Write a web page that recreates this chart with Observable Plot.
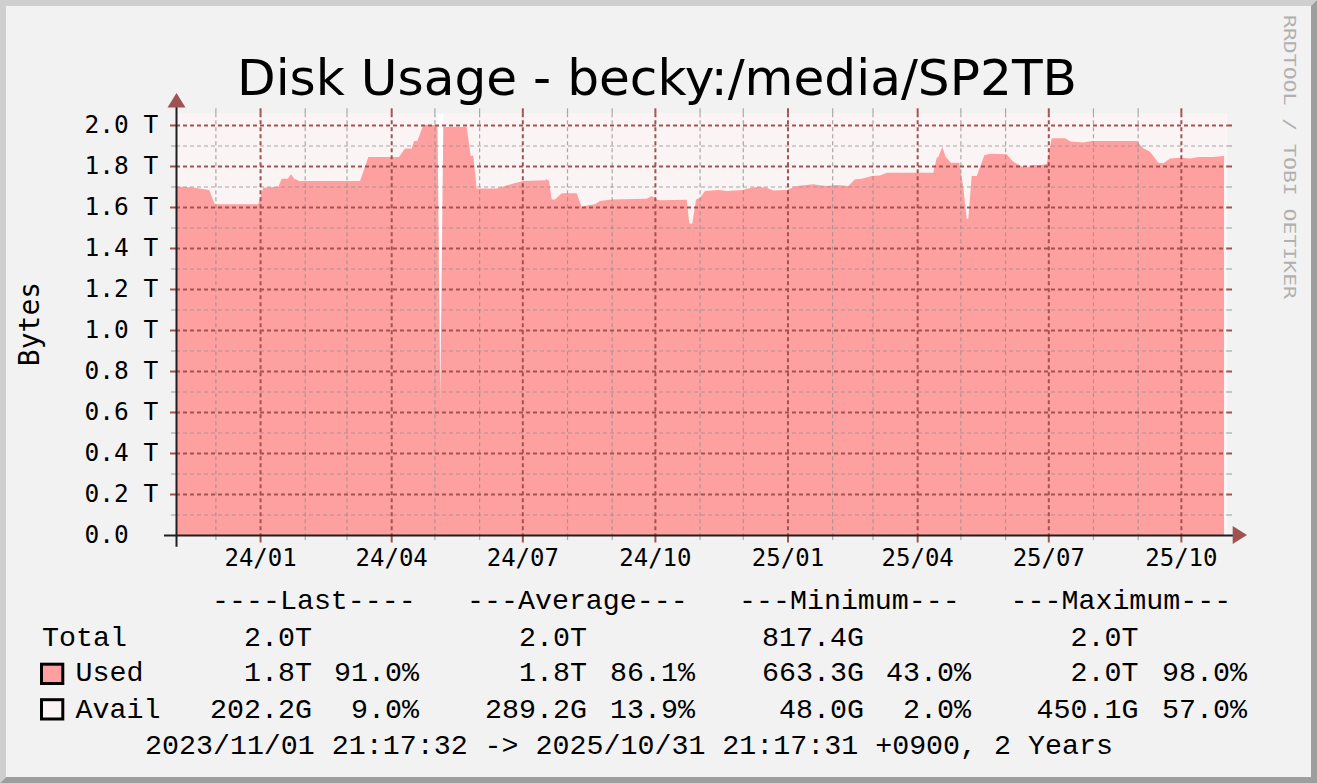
<!DOCTYPE html>
<html><head><meta charset="utf-8">
<script src="https://cdn.jsdelivr.net/npm/d3@7"></script>
<script src="https://cdn.jsdelivr.net/npm/@observablehq/plot@0.6"></script>
<style>html,body{margin:0;padding:0;background:#F2F2F2;overflow:hidden}</style>
</head><body><div id="chart"></div>
<script>
// ---------- text ----------
const titleText = "Disk Usage - becky:/media/SP2TB";
const yAxisLabel = "Bytes";
const watermarkText = "RRDTOOL / TOBI OETIKER";
const periodText = "2023/11/01 21:17:32 -> 2025/10/31 21:17:31 +0900, 2 Years";

// ---------- time domain (local +0900) ----------
const xDomainDates = ["2023-11-03T16:00", "2025-11-01T16:00"];

// ---------- Used series (T bytes) ----------
const usedDates = [
  "2023-11-04T04:00","2023-11-15T11:00","2023-11-26T18:00","2023-11-29T13:00","2023-11-30T17:00",
  "2023-12-30T19:00","2024-01-03T06:00","2024-01-13T16:00","2024-01-16T01:00","2024-01-20T04:00",
  "2024-01-22T11:00","2024-01-24T18:00","2024-01-28T05:00","2024-03-10T09:00","2024-03-16T03:00",
  "2024-04-06T10:00","2024-04-10T14:00","2024-04-15T05:00","2024-04-16T20:00","2024-04-19T03:00",
  "2024-04-23T07:00","2024-05-03T03:00","2024-05-05T02:00","2024-05-07T04:00","2024-05-23T10:00",
  "2024-05-26T04:00","2024-05-27T23:00","2024-05-30T08:00","2024-06-13T05:00","2024-06-24T18:00",
  "2024-07-01T16:00","2024-07-16T18:00","2024-07-17T22:00","2024-07-19T12:00","2024-07-21T09:00",
  "2024-07-23T16:00","2024-07-28T08:00","2024-08-07T18:00","2024-08-11T05:00","2024-08-15T19:00",
  "2024-08-20T10:00","2024-08-23T22:00","2024-09-01T01:00","2024-09-25T07:00","2024-09-28T19:00",
  "2024-10-02T06:00","2024-10-04T13:00","2024-10-23T02:00","2024-10-24T21:00","2024-10-26T23:00",
  "2024-10-29T13:00","2024-11-01T07:00","2024-11-04T18:00","2024-11-14T00:00","2024-11-19T20:00",
  "2024-12-01T08:00","2024-12-03T17:00","2024-12-10T15:00","2024-12-17T14:00","2024-12-22T04:00",
  "2024-12-31T11:00","2025-01-07T10:00","2025-01-18T22:00","2025-01-23T14:00","2025-01-28T05:00",
  "2025-02-04T04:00","2025-02-12T05:00","2025-02-16T21:00","2025-02-21T12:00","2025-02-28T11:00",
  "2025-03-06T05:00","2025-03-10T21:00","2025-04-12T05:00","2025-04-14T14:00","2025-04-15T16:00",
  "2025-04-18T11:00","2025-04-20T20:00","2025-04-24T12:00","2025-04-30T06:00","2025-05-03T01:00",
  "2025-05-05T09:00","2025-05-06T12:00","2025-05-08T20:00","2025-05-12T08:00","2025-05-17T14:00",
  "2025-05-21T13:00","2025-06-02T03:00","2025-06-06T17:00","2025-06-14T20:00","2025-06-20T14:00",
  "2025-06-25T06:00","2025-06-29T22:00","2025-07-03T09:00","2025-07-12T14:00","2025-07-16T13:00",
  "2025-07-25T07:00","2025-07-31T03:00","2025-08-31T09:00","2025-09-04T22:00","2025-09-09T14:00",
  "2025-09-15T08:00","2025-09-18T20:00","2025-09-23T11:00","2025-09-30T10:00","2025-10-07T08:00",
  "2025-10-13T03:00","2025-10-23T12:00","2025-10-30T11:00","2025-10-30T22:00"
];
const usedValues = [
  1.700,1.695,1.683,1.630,1.613,
  1.613,1.694,1.699,1.738,1.738,
  1.760,1.738,1.727,1.727,1.844,
  1.844,1.885,1.885,1.922,1.922,
  2.000,2.000,0.663,1.990,1.990,
  1.850,1.850,1.690,1.690,1.714,
  1.727,1.730,1.735,1.727,1.637,
  1.637,1.667,1.667,1.600,1.608,
  1.613,1.629,1.637,1.640,1.654,
  1.637,1.633,1.635,1.519,1.519,
  1.637,1.645,1.678,1.683,1.678,
  1.683,1.689,1.698,1.694,1.681,
  1.683,1.702,1.711,1.706,1.702,
  1.707,1.702,1.735,1.738,1.751,
  1.754,1.767,1.767,1.840,1.844,
  1.893,1.844,1.816,1.816,1.694,
  1.543,1.543,1.751,1.751,1.852,
  1.860,1.857,1.821,1.789,1.805,
  1.803,1.810,1.935,1.935,1.919,
  1.914,1.922,1.922,1.886,1.870,
  1.816,1.813,1.836,1.840,1.836,
  1.844,1.844,1.849,1.849
];

// ---------- Total series (Used + Avail) ----------
const totalDates = ["2023-11-03T16:00","2024-05-03T03:00","2024-05-05T02:00","2024-05-07T04:00","2025-11-01T16:00"];
const totalValues = [2.057, 2.057, 0.817, 2.057, 2.057];

// ---------- ticks ----------
const yTickValues = [0,0.2,0.4,0.6,0.8,1.0,1.2,1.4,1.6,1.8,2.0];
const yTickLabels = ["0.0","0.2 T","0.4 T","0.6 T","0.8 T","1.0 T","1.2 T","1.4 T","1.6 T","1.8 T","2.0 T"];
const yMinorValues = [0.1,0.3,0.5,0.7,0.9,1.1,1.3,1.5,1.7,1.9];
const xMajorDates = ["2024-01-01T00:00","2024-04-01T00:00","2024-07-01T00:00","2024-10-01T00:00",
                     "2025-01-01T00:00","2025-04-01T00:00","2025-07-01T00:00","2025-10-01T00:00"];
const xTickLabels = ["24/01","24/04","24/07","24/10","25/01","25/04","25/07","25/10"];
const xMinorDates = ["2023-12-01T00:00","2024-02-01T00:00","2024-03-01T00:00","2024-05-01T00:00","2024-06-01T00:00",
                     "2024-08-01T00:00","2024-09-01T00:00","2024-11-01T00:00","2024-12-01T00:00","2025-02-01T00:00",
                     "2025-03-01T00:00","2025-05-01T00:00","2025-06-01T00:00","2025-08-01T00:00","2025-09-01T00:00"];

// ---------- legend ----------
const legendHeaders = ["----Last----","---Average---","---Minimum---","---Maximum---"];
const legendNames = ["Total","Used","Avail"];
const totalStats = ["2.0T","2.0T","817.4G","2.0T"];
const usedStats = ["1.8T","1.8T","663.3G","2.0T"];
const usedPct = ["91.0%","86.1%","43.0%","98.0%"];
const availStats = ["202.2G","289.2G","48.0G","450.1G"];
const availPct = ["9.0%","13.9%","2.0%","57.0%"];

// ---------- build ----------
const P = s => new Date(s + ":00+09:00");
const used = usedDates.map((d, i) => ({date: P(d), value: usedValues[i]}));
const total = totalDates.map((d, i) => ({date: P(d), value: totalValues[i]}));
const xMajor = xMajorDates.map(P);
const xMinor = xMinorDates.map(P);
const xDomain = xDomainDates.map(P);
const yMajorGrid = yTickValues.slice(1);

const W = 1317, H = 783, L = 176, R = 1226.5, T = 113.3, B = 535;
const FW = R - L, FH = B - T;
const red = "#A35252", gray = "#8F8F8F", axisCol = "#1F1F1F";
const mono = "DejaVu Sans Mono";

const chart = Plot.plot({
  width: W, height: H,
  marginLeft: L, marginRight: W - R, marginTop: T, marginBottom: H - B,
  style: {background: "#F2F2F2", overflow: "visible"},
  x: {type: "time", domain: xDomain, axis: null},
  y: {domain: [0, 2.057], axis: null},
  marks: [
    Plot.frame({fill: "#FFFFFF"}),
    Plot.areaY(total, {x: "date", y: "value", fill: "#FAF4F4"}),
    Plot.areaY(used, {x: "date", y: "value", fill: "#FFA0A0"}),
    // minor grid
    Plot.ruleY(yMinorValues, {stroke: gray, strokeOpacity: 0.75, strokeWidth: 1.2, strokeDasharray: "4,3"}),
    Plot.ruleX(xMinor, {stroke: gray, strokeOpacity: 0.75, strokeWidth: 1.2, strokeDasharray: "4,3"}),
    // major grid
    Plot.ruleY(yMajorGrid, {stroke: red, strokeWidth: 2, strokeDasharray: "4,3"}),
    Plot.ruleX(xMajor, {stroke: red, strokeWidth: 2, strokeDasharray: "4,3"}),
    // ticks left / right
    Plot.ruleY(yMinorValues, {stroke: gray, strokeOpacity: 0.75, strokeWidth: 1.2, insetLeft: -5, insetRight: FW}),
    Plot.ruleY(yMajorGrid, {stroke: red, strokeWidth: 2, insetLeft: -6, insetRight: FW}),
    Plot.ruleY(yMinorValues, {stroke: gray, strokeOpacity: 0.75, strokeWidth: 1.2, insetLeft: FW, insetRight: -5.5}),
    Plot.ruleY(yMajorGrid, {stroke: red, strokeWidth: 2, insetLeft: FW, insetRight: -5.5}),
    // ticks top / bottom
    Plot.ruleX(xMinor, {stroke: gray, strokeOpacity: 0.75, strokeWidth: 1.2, insetTop: -5, insetBottom: FH}),
    Plot.ruleX(xMajor, {stroke: red, strokeWidth: 2, insetTop: -5, insetBottom: FH}),
    Plot.ruleX(xMinor, {stroke: gray, strokeOpacity: 0.75, strokeWidth: 1.2, insetTop: FH, insetBottom: -5}),
    Plot.ruleX(xMajor, {stroke: red, strokeWidth: 2, insetTop: FH, insetBottom: -7.5}),
    // axes
    Plot.ruleX([xDomain[0]], {stroke: axisCol, strokeWidth: 2, insetTop: -6.3, insetBottom: -11.7}),
    Plot.ruleY([0], {stroke: axisCol, strokeWidth: 2, insetLeft: -12, insetRight: -6.5}),
    // tick labels
    Plot.text(yTickLabels, {y: (d, i) => yTickValues[i], text: d => d, frameAnchor: "left", dx: 84 - L,
      textAnchor: "start", fontFamily: mono, fontSize: 24.5, fill: "#000"}),
    Plot.text(xTickLabels, {x: (d, i) => xMajor[i], text: d => d, frameAnchor: "bottom", dy: 23,
      lineAnchor: "middle", fontFamily: mono, fontSize: 24, fill: "#000"})
  ]
});
document.getElementById("chart").appendChild(chart);

// ---------- decorations ----------
const svg = d3.select(chart);
// frame shading
svg.append("polygon").attr("points", `0,0 ${W},0 ${W-6},6 6,6 6,${H-6} 0,${H}`).attr("fill", "#CFCFCF");
svg.append("polygon").attr("points", `${W},0 ${W},${H} 0,${H} 6,${H-6} ${W-6},${H-6} ${W-6},6`).attr("fill", "#9E9E9E");

// arrows
const arrowCol = "#A05252";
svg.append("path").attr("d", `M${L+0.5},${T-20.3} L${L-8.5},${T-5.8} L${L+9.5},${T-5.8} Z`).attr("fill", arrowCol);
svg.append("path").attr("d", `M${R+20.5},${B} L${R+6.2},${B-9} L${R+6.2},${B+9} Z`).attr("fill", arrowCol);

// title
svg.append("text").attr("x", 657).attr("y", 95).attr("text-anchor", "middle")
  .attr("font-family", "DejaVu Sans").attr("font-size", 50.2).attr("fill", "#000").text(titleText);

// y label
svg.append("text").attr("transform", "translate(39,324) rotate(-90)").attr("text-anchor", "middle")
  .attr("font-family", mono).attr("font-size", 28).attr("fill", "#000").text(yAxisLabel);

// watermark
svg.append("text").attr("transform", "translate(1284,15) rotate(90) scale(1.43,1)").attr("text-anchor", "start")
  .attr("font-family", mono).attr("font-size", 15).attr("fill", "#B0B0B0").text(watermarkText);

// legend
const lf = "Liberation Mono", ls = 28.3;
const headerX = [212, 467, 739, 1010.5];
const valEndX = [312, 587, 864, 1138.5];
const pctEndX = [419, 695, 971, 1247];
const rowY = [609, 645.5, 681, 717.5, 753.5];
const g = svg.append("g").attr("font-family", lf).attr("font-size", ls).attr("fill", "#000").attr("text-anchor", "start");
legendHeaders.forEach((h, i) => g.append("text").attr("x", headerX[i]).attr("y", rowY[0]).attr("text-anchor", "start").text(h));
g.append("text").attr("x", 42).attr("y", rowY[1]).attr("text-anchor", "start").text(legendNames[0]);
g.append("text").attr("x", 75.5).attr("y", rowY[2]).attr("text-anchor", "start").text(legendNames[1]);
g.append("text").attr("x", 75.5).attr("y", rowY[3]).attr("text-anchor", "start").text(legendNames[2]);
[totalStats, usedStats, availStats].forEach((arr, r) => arr.forEach((v, i) =>
  g.append("text").attr("x", valEndX[i]).attr("y", rowY[r + 1]).attr("text-anchor", "end").text(v)));
[usedPct, availPct].forEach((arr, r) => arr.forEach((v, i) =>
  g.append("text").attr("x", pctEndX[i]).attr("y", rowY[r + 2]).attr("text-anchor", "end").text(v)));
g.append("text").attr("x", 145).attr("y", rowY[4]).attr("text-anchor", "start").text(periodText);
svg.append("rect").attr("x", 41.5).attr("y", 664.2).attr("width", 21.3).attr("height", 19.3)
  .attr("fill", "#FFA0A0").attr("stroke", "#000").attr("stroke-width", 3);
svg.append("rect").attr("x", 41.5).attr("y", 699.7).attr("width", 21.3).attr("height", 19.3)
  .attr("fill", "#FAF4F4").attr("stroke", "#000").attr("stroke-width", 3);
</script>
</body></html>
